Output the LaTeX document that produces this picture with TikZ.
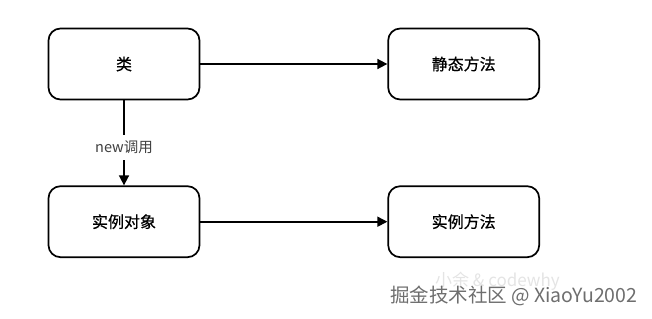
\documentclass[tikz,border=0pt]{standalone}
\usepackage{fontspec}
\setmainfont{Noto Sans CJK SC}
\newfontfamily\boxfont[FakeBold=0.6]{Noto Sans CJK SC}
\usetikzlibrary{positioning, arrows.meta}
\definecolor{wmgray}{RGB}{110,110,110}
\definecolor{wmlight}{RGB}{228,228,228}

\begin{document}
\begin{tikzpicture}[x=1pt, y=-1pt, >={Triangle[length=10pt,width=10pt]}, line width=1.7pt,
    box/.style={draw, rounded corners=12pt, minimum width=151pt, minimum height=71pt,
                font=\boxfont\fontsize{16}{18}\selectfont}]

    \useasboundingbox (0,0) rectangle (652,318);

    % ---------- boxes ----------
    \node[box] (cls) at (124,64) {类};
    \node[box, right=187pt of cls] (static) {静态方法};
    \node[box, below=85pt of cls] (inst) {实例对象};
    \node[box, right=187pt of inst] (instm) {实例方法};

    % ---------- arrows ----------
    \draw[->] (cls) -- (static);
    \draw[->] (inst) -- (instm);
    \draw[->] (cls) -- node[pos=0.55, fill=white, text=black!75, inner sep=6pt,
      font=\fontsize{14.5}{16}\selectfont] (newlbl) {new调用} (inst);

    % ---------- watermark ----------
    \node[anchor=west, text=wmlight, font=\fontsize{17}{19}\selectfont]
      (wmback) at (431,281) {小余 \& codewhy};
    \node[anchor=west, text=wmgray, font=\fontsize{19.5}{21}\selectfont]
      (wmfront) at (386,296) {掘金技术社区 @ XiaoYu2002};

\end{tikzpicture}
\end{document}
